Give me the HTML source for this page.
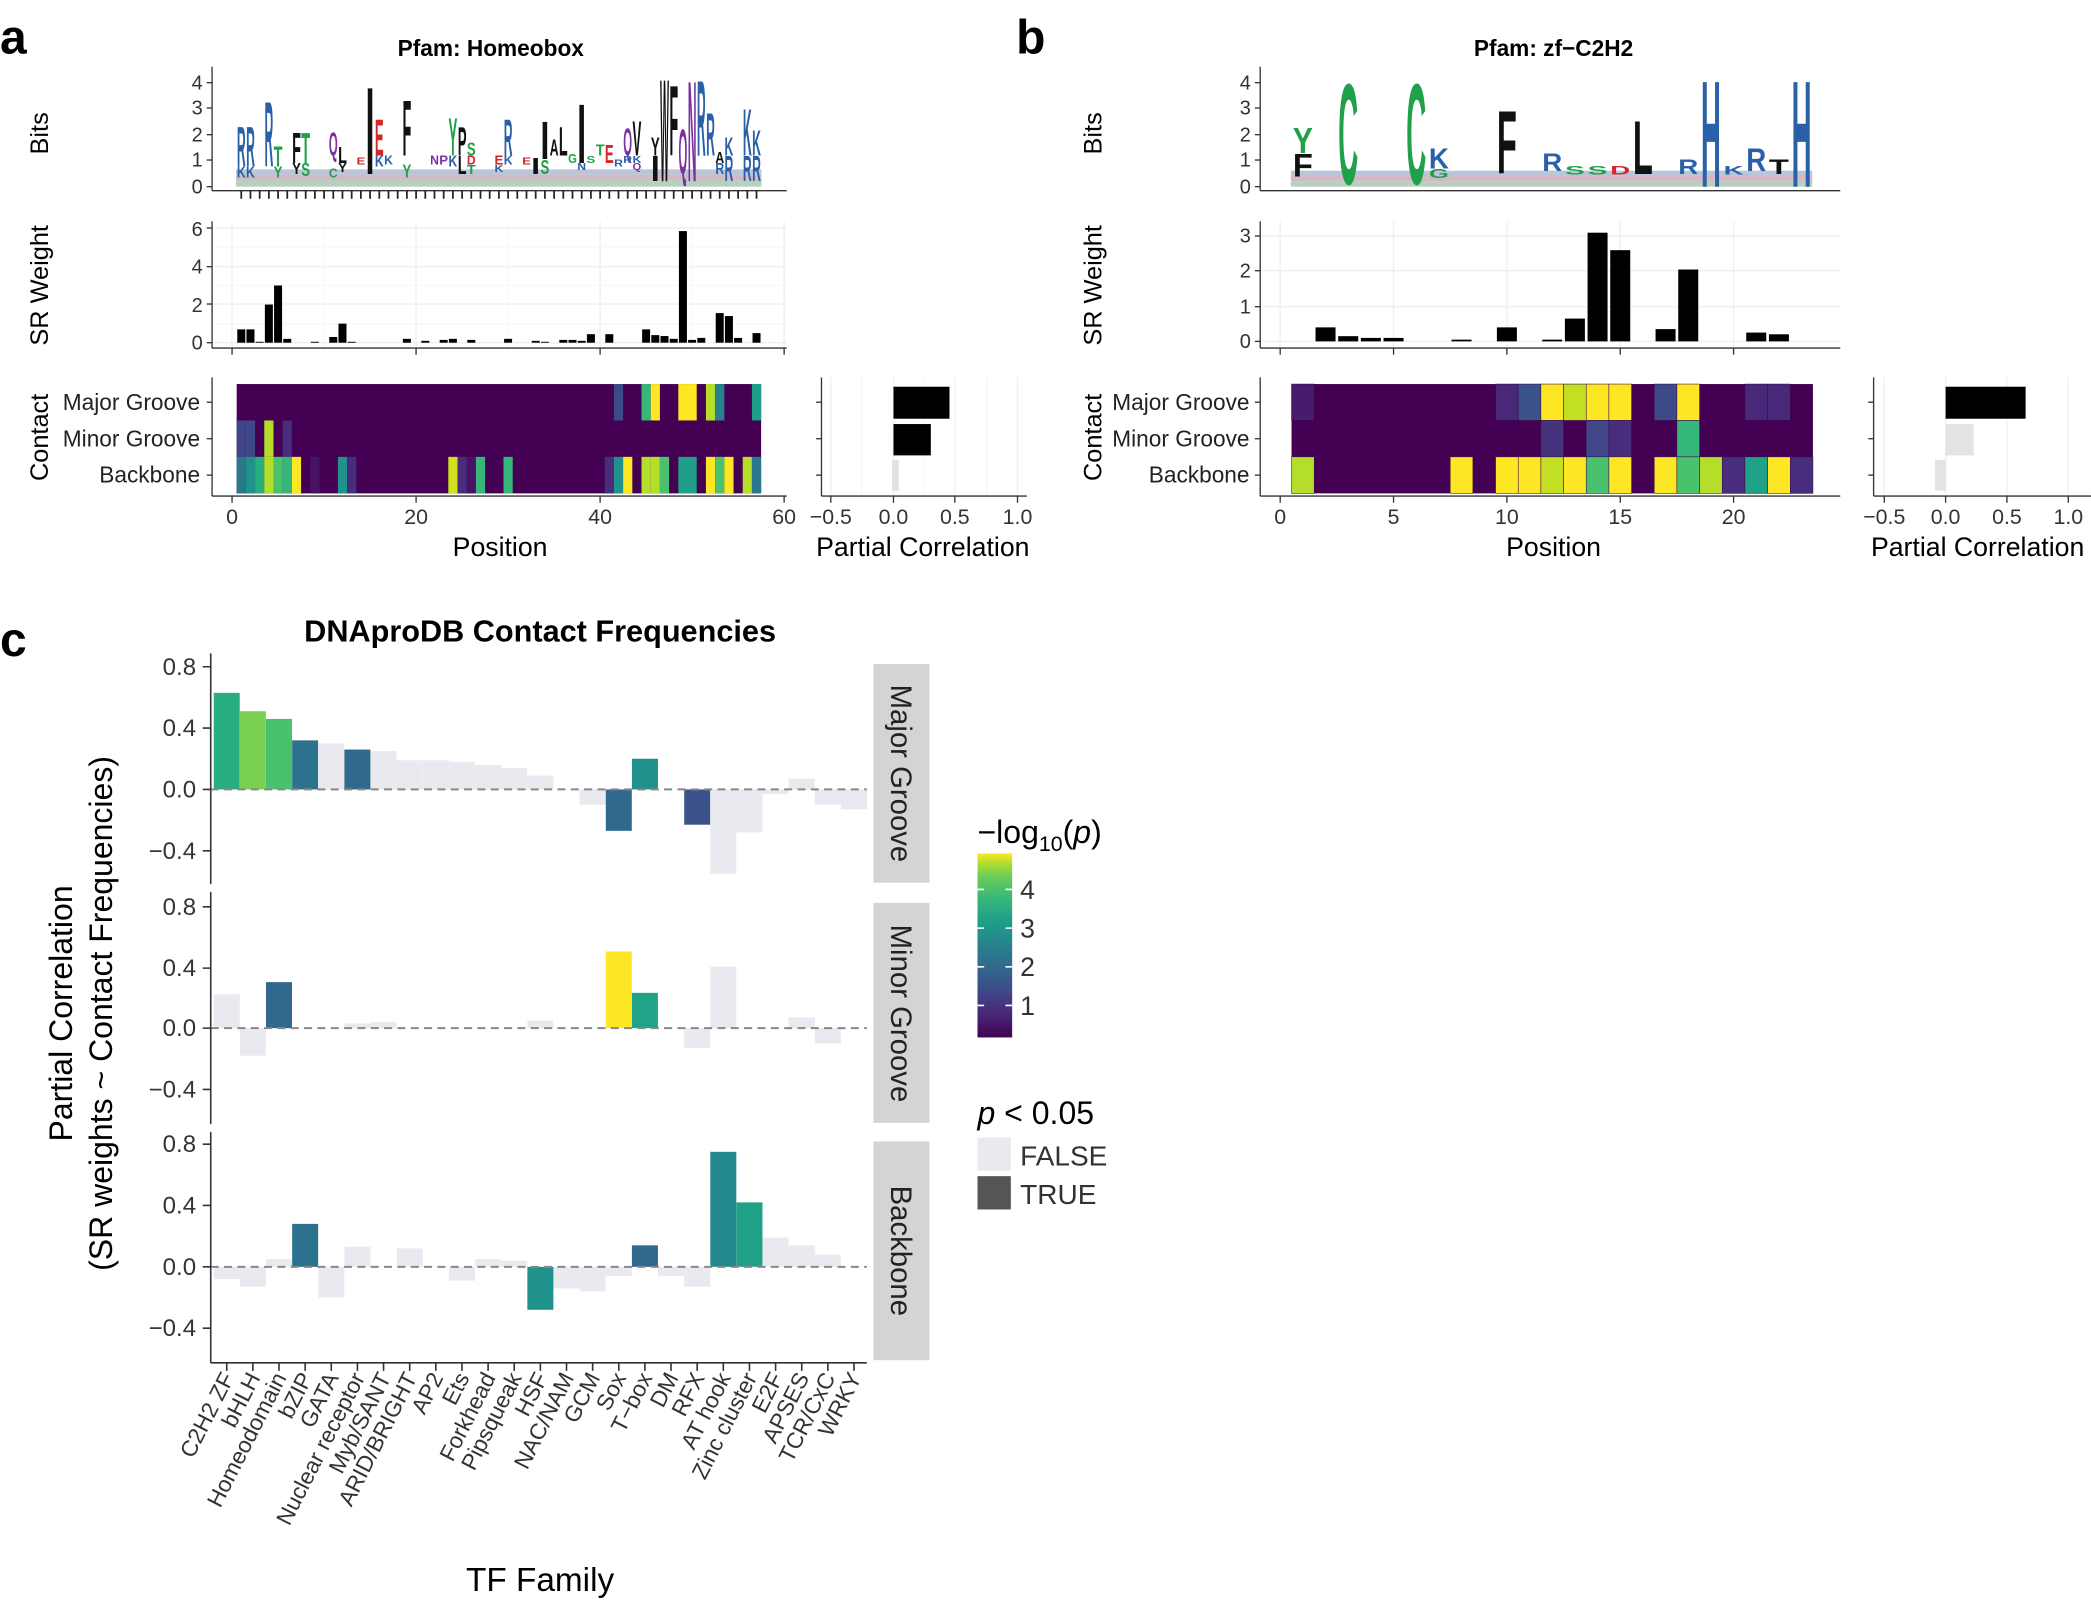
<!DOCTYPE html>
<html><head><meta charset="utf-8"><style>
html,body{margin:0;padding:0;background:#fff}
svg{display:block}
text{font-family:"Liberation Sans",sans-serif}
.l{font-weight:bold}
</style></head><body>
<svg width="2091" height="1609" viewBox="0 0 1568 1206.6" xmlns="http://www.w3.org/2000/svg">
<defs>
<linearGradient id="vir" x1="0" y1="1" x2="0" y2="0">
<stop offset="0" stop-color="#440154"/><stop offset="0.13" stop-color="#482878"/><stop offset="0.25" stop-color="#3e4989"/><stop offset="0.38" stop-color="#31688e"/><stop offset="0.5" stop-color="#26828e"/><stop offset="0.63" stop-color="#1f9e89"/><stop offset="0.75" stop-color="#35b779"/><stop offset="0.88" stop-color="#6ece58"/><stop offset="0.95" stop-color="#b5de2b"/><stop offset="1" stop-color="#fde725"/>
</linearGradient>
</defs>
<rect width="1568" height="1207" fill="#fff"/>

<!-- ===== Panel a ===== -->
<text x="0" y="40" font-size="36" class="l">a</text>
<text x="368" y="42" font-size="17" class="l" text-anchor="middle">Pfam: Homeobox</text>

<g font-size="15" text-anchor="end" fill="#333">
<text x="152" y="67">4</text><text x="152" y="86">3</text><text x="152" y="106">2</text><text x="152" y="125">1</text><text x="152" y="145">0</text>
</g>
<g stroke="#333" stroke-width="1">
<line x1="159" y1="50" x2="159" y2="143"/><line x1="159" y1="143" x2="590" y2="143"/>
<line x1="155" y1="62" x2="159" y2="62"/><line x1="155" y1="81" x2="159" y2="81"/><line x1="155" y1="101" x2="159" y2="101"/><line x1="155" y1="120" x2="159" y2="120"/><line x1="155" y1="140" x2="159" y2="140"/>
</g>
<g stroke="#222" stroke-width="1.3">
<path d="M180.9 143v6M187.8 143v6M194.7 143v6M201.6 143v6M208.5 143v6M215.4 143v6M222.3 143v6M229.2 143v6M236.1 143v6M243 143v6M249.9 143v6M256.8 143v6M263.7 143v6M270.6 143v6M277.5 143v6M284.4 143v6M291.3 143v6M298.2 143v6M305.1 143v6M312 143v6M318.9 143v6M325.8 143v6M332.7 143v6M339.6 143v6M346.5 143v6M353.4 143v6M360.3 143v6M367.2 143v6M374.1 143v6M381 143v6M387.9 143v6M394.8 143v6M401.7 143v6M408.6 143v6M415.5 143v6M422.4 143v6M429.3 143v6M436.2 143v6M443.1 143v6M450 143v6M456.9 143v6M463.8 143v6M470.7 143v6M477.6 143v6M484.5 143v6M491.4 143v6M498.3 143v6M505.2 143v6M512.1 143v6M519 143v6M525.9 143v6M532.8 143v6M539.7 143v6M546.6 143v6M553.5 143v6M560.4 143v6M567.3 143v6"/>
</g>
<text x="36" y="100" font-size="19" transform="rotate(-90 36 100)" text-anchor="middle">Bits</text>
<rect x="177" y="127" width="394" height="4" fill="#a9b7d0" opacity="0.8"/>
<rect x="177" y="131" width="394" height="4" fill="#c8a8b8" opacity="0.8"/>
<rect x="177" y="135" width="394" height="5" fill="#a8c4b0" opacity="0.8"/>
<g class="l" font-weight="bold">
<text x="177.6" y="124.8" font-size="42.4" textLength="6.6" lengthAdjust="spacingAndGlyphs" fill="#2a60a8">R</text>
<text x="177.6" y="133.1" font-size="11.5" textLength="6.6" lengthAdjust="spacingAndGlyphs" fill="#2a60a8">K</text>
<text x="184.5" y="124.8" font-size="42.4" textLength="6.6" lengthAdjust="spacingAndGlyphs" fill="#2a60a8">R</text>
<text x="184.5" y="133.1" font-size="11.5" textLength="6.6" lengthAdjust="spacingAndGlyphs" fill="#2a60a8">K</text>
<text x="198.3" y="124.8" font-size="69.9" textLength="6.6" lengthAdjust="spacingAndGlyphs" fill="#2a60a8">R</text>
<text x="205.2" y="124.8" font-size="21.2" textLength="6.6" lengthAdjust="spacingAndGlyphs" fill="#21a04a">T</text>
<text x="205.2" y="133.1" font-size="11.5" textLength="6.6" lengthAdjust="spacingAndGlyphs" fill="#21a04a">Y</text>
<text x="219" y="122.1" font-size="32.8" textLength="6.6" lengthAdjust="spacingAndGlyphs" fill="#111">F</text>
<text x="219" y="130.4" font-size="11.5" textLength="6.6" lengthAdjust="spacingAndGlyphs" fill="#111">Y</text>
<text x="225.9" y="122.1" font-size="32.8" textLength="6.6" lengthAdjust="spacingAndGlyphs" fill="#21a04a">T</text>
<text x="225.9" y="131.8" font-size="13.5" textLength="6.6" lengthAdjust="spacingAndGlyphs" fill="#21a04a">S</text>
<text x="246.6" y="116.5" font-size="25" textLength="6.6" lengthAdjust="spacingAndGlyphs" fill="#7b2fa0">Q</text>
<text x="246.6" y="133.1" font-size="9.6" textLength="6.6" lengthAdjust="spacingAndGlyphs" fill="#21a04a">C</text>
<text x="253.5" y="122.1" font-size="17.3" textLength="6.6" lengthAdjust="spacingAndGlyphs" fill="#111">L</text>
<text x="253.5" y="129" font-size="9.6" textLength="6.6" lengthAdjust="spacingAndGlyphs" fill="#111">Y</text>
<text x="267.3" y="123.4" font-size="7.5" textLength="6.6" lengthAdjust="spacingAndGlyphs" fill="#d62728">E</text>
<text x="274.2" y="130.4" font-size="93.3" textLength="6.6" lengthAdjust="spacingAndGlyphs" fill="#111">I</text>
<text x="281.1" y="116.5" font-size="38.6" textLength="6.6" lengthAdjust="spacingAndGlyphs" fill="#d62728">E</text>
<text x="281.1" y="124.8" font-size="11.5" textLength="6.6" lengthAdjust="spacingAndGlyphs" fill="#2a60a8">K</text>
<text x="288" y="123.4" font-size="9.6" textLength="6.6" lengthAdjust="spacingAndGlyphs" fill="#2a60a8">K</text>
<text x="301.8" y="116.5" font-size="58.8" textLength="6.6" lengthAdjust="spacingAndGlyphs" fill="#111">F</text>
<text x="301.8" y="133.1" font-size="13.5" textLength="6.6" lengthAdjust="spacingAndGlyphs" fill="#21a04a">Y</text>
<text x="322.5" y="123.4" font-size="9.6" textLength="6.6" lengthAdjust="spacingAndGlyphs" fill="#7b2fa0">N</text>
<text x="329.4" y="123.4" font-size="9.6" textLength="6.6" lengthAdjust="spacingAndGlyphs" fill="#7b2fa0">P</text>
<text x="336.3" y="116.5" font-size="40.4" textLength="6.6" lengthAdjust="spacingAndGlyphs" fill="#21a04a">Y</text>
<text x="336.3" y="124.8" font-size="11.5" textLength="6.6" lengthAdjust="spacingAndGlyphs" fill="#2a60a8">K</text>
<text x="343.2" y="116.5" font-size="30.8" textLength="6.6" lengthAdjust="spacingAndGlyphs" fill="#111">P</text>
<text x="343.2" y="130.4" font-size="19.2" textLength="6.6" lengthAdjust="spacingAndGlyphs" fill="#111">L</text>
<text x="350.1" y="116.5" font-size="13.5" textLength="6.6" lengthAdjust="spacingAndGlyphs" fill="#21a04a">S</text>
<text x="350.1" y="123.4" font-size="9.6" textLength="6.6" lengthAdjust="spacingAndGlyphs" fill="#d62728">D</text>
<text x="350.1" y="130.4" font-size="9.6" textLength="6.6" lengthAdjust="spacingAndGlyphs" fill="#21a04a">T</text>
<text x="370.8" y="123.4" font-size="9.6" textLength="6.6" lengthAdjust="spacingAndGlyphs" fill="#d62728">E</text>
<text x="370.8" y="129" font-size="7.7" textLength="6.6" lengthAdjust="spacingAndGlyphs" fill="#2a60a8">K</text>
<text x="377.7" y="116.5" font-size="38.6" textLength="6.6" lengthAdjust="spacingAndGlyphs" fill="#2a60a8">R</text>
<text x="377.7" y="123.4" font-size="9.6" textLength="6.6" lengthAdjust="spacingAndGlyphs" fill="#2a60a8">K</text>
<text x="391.5" y="123.4" font-size="7.6" textLength="6.6" lengthAdjust="spacingAndGlyphs" fill="#d62728">E</text>
<text x="398.4" y="130.4" font-size="17.3" textLength="6.6" lengthAdjust="spacingAndGlyphs" fill="#111">I</text>
<text x="405.3" y="119.3" font-size="40.4" textLength="6.6" lengthAdjust="spacingAndGlyphs" fill="#111">I</text>
<text x="405.3" y="130.4" font-size="15.4" textLength="6.6" lengthAdjust="spacingAndGlyphs" fill="#21a04a">S</text>
<text x="412.2" y="116.5" font-size="17.3" textLength="6.6" lengthAdjust="spacingAndGlyphs" fill="#111">A</text>
<text x="419.1" y="116.5" font-size="30.8" textLength="6.6" lengthAdjust="spacingAndGlyphs" fill="#111">L</text>
<text x="426" y="122.1" font-size="9.6" textLength="6.6" lengthAdjust="spacingAndGlyphs" fill="#21a04a">G</text>
<text x="432.9" y="122.1" font-size="63.6" textLength="6.6" lengthAdjust="spacingAndGlyphs" fill="#111">I</text>
<text x="432.9" y="127.6" font-size="7.7" textLength="6.6" lengthAdjust="spacingAndGlyphs" fill="#2a60a8">N</text>
<text x="439.8" y="122.1" font-size="7.7" textLength="6.6" lengthAdjust="spacingAndGlyphs" fill="#21a04a">S</text>
<text x="446.7" y="116.5" font-size="11.5" textLength="6.6" lengthAdjust="spacingAndGlyphs" fill="#21a04a">T</text>
<text x="453.6" y="122.1" font-size="19.2" textLength="6.6" lengthAdjust="spacingAndGlyphs" fill="#d62728">E</text>
<text x="460.5" y="124.8" font-size="7.7" textLength="6.6" lengthAdjust="spacingAndGlyphs" fill="#2a60a8">R</text>
<text x="467.4" y="116.5" font-size="28.9" textLength="6.6" lengthAdjust="spacingAndGlyphs" fill="#7b2fa0">Q</text>
<text x="467.4" y="122.1" font-size="7.7" textLength="6.6" lengthAdjust="spacingAndGlyphs" fill="#2a60a8">R</text>
<text x="474.3" y="116.5" font-size="36.5" textLength="6.6" lengthAdjust="spacingAndGlyphs" fill="#111">V</text>
<text x="474.3" y="122.1" font-size="7.7" textLength="6.6" lengthAdjust="spacingAndGlyphs" fill="#2a60a8">K</text>
<text x="474.3" y="127.6" font-size="7.7" textLength="6.6" lengthAdjust="spacingAndGlyphs" fill="#7b2fa0">Q</text>
<text x="488.1" y="116.5" font-size="19.2" textLength="6.6" lengthAdjust="spacingAndGlyphs" fill="#111">Y</text>
<text x="488.1" y="135.9" font-size="26.9" textLength="6.6" lengthAdjust="spacingAndGlyphs" fill="#111">I</text>
<text x="495" y="135.9" font-size="109.7" textLength="6.6" lengthAdjust="spacingAndGlyphs" fill="#111">W</text>
<text x="501.9" y="116.5" font-size="75.1" textLength="6.6" lengthAdjust="spacingAndGlyphs" fill="#111">F</text>
<text x="508.8" y="130.4" font-size="48.1" textLength="6.6" lengthAdjust="spacingAndGlyphs" fill="#7b2fa0">Q</text>
<text x="515.7" y="135.9" font-size="107.8" textLength="6.6" lengthAdjust="spacingAndGlyphs" fill="#7b2fa0">N</text>
<text x="522.6" y="116.5" font-size="80.8" textLength="6.6" lengthAdjust="spacingAndGlyphs" fill="#2a60a8">R</text>
<text x="529.5" y="116.5" font-size="46.2" textLength="6.6" lengthAdjust="spacingAndGlyphs" fill="#2a60a8">R</text>
<text x="536.4" y="122.1" font-size="11.5" textLength="6.6" lengthAdjust="spacingAndGlyphs" fill="#111">A</text>
<text x="536.4" y="130.4" font-size="11.5" textLength="6.6" lengthAdjust="spacingAndGlyphs" fill="#2a60a8">R</text>
<text x="543.3" y="116.5" font-size="19.2" textLength="6.6" lengthAdjust="spacingAndGlyphs" fill="#2a60a8">K</text>
<text x="543.3" y="135.9" font-size="26.9" textLength="6.6" lengthAdjust="spacingAndGlyphs" fill="#2a60a8">R</text>
<text x="557.1" y="116.5" font-size="50" textLength="6.6" lengthAdjust="spacingAndGlyphs" fill="#2a60a8">K</text>
<text x="557.1" y="135.9" font-size="26.9" textLength="6.6" lengthAdjust="spacingAndGlyphs" fill="#2a60a8">R</text>
<text x="564" y="116.5" font-size="26.9" textLength="6.6" lengthAdjust="spacingAndGlyphs" fill="#2a60a8">K</text>
<text x="564" y="135.9" font-size="26.9" textLength="6.6" lengthAdjust="spacingAndGlyphs" fill="#2a60a8">R</text>
</g>

<g stroke="#efefef" stroke-width="1">
<line x1="160" y1="171" x2="590" y2="171"/><line x1="160" y1="200" x2="590" y2="200"/><line x1="160" y1="228" x2="590" y2="228"/><line x1="160" y1="257" x2="590" y2="257"/>
<line x1="160" y1="185" x2="590" y2="185" stroke="#f7f7f7"/><line x1="160" y1="214" x2="590" y2="214" stroke="#f7f7f7"/><line x1="160" y1="243" x2="590" y2="243" stroke="#f7f7f7"/>
<line x1="174" y1="166" x2="174" y2="261"/><line x1="312" y1="166" x2="312" y2="261"/><line x1="450" y1="166" x2="450" y2="261"/><line x1="588" y1="166" x2="588" y2="261"/>
<line x1="243" y1="166" x2="243" y2="261" stroke="#f7f7f7"/><line x1="381" y1="166" x2="381" y2="261" stroke="#f7f7f7"/><line x1="519" y1="166" x2="519" y2="261" stroke="#f7f7f7"/>
</g>
<g stroke="#333" stroke-width="1">
<line x1="159" y1="166" x2="159" y2="261"/><line x1="159" y1="261" x2="590" y2="261"/>
<line x1="155" y1="171" x2="159" y2="171"/><line x1="155" y1="200" x2="159" y2="200"/><line x1="155" y1="228" x2="159" y2="228"/><line x1="155" y1="257" x2="159" y2="257"/>
<line x1="174" y1="261" x2="174" y2="266"/><line x1="312" y1="261" x2="312" y2="266"/><line x1="450" y1="261" x2="450" y2="266"/><line x1="588" y1="261" x2="588" y2="266"/>
</g>
<g font-size="15" text-anchor="end" fill="#333">
<text x="152" y="177">6</text><text x="152" y="205">4</text><text x="152" y="234">2</text><text x="152" y="262">0</text>
</g>
<text x="36" y="214" font-size="19" transform="rotate(-90 36 214)" text-anchor="middle">SR Weight</text>
<g fill="#000">
<rect x="177.9" y="247" width="6" height="10"/><rect x="184.8" y="247" width="6" height="10"/><rect x="191.7" y="256.3" width="6" height="0.7"/>
<rect x="198.6" y="228.4" width="6" height="28.6"/><rect x="205.5" y="214.1" width="6" height="42.9"/><rect x="212.4" y="254.1" width="6" height="2.9"/>
<rect x="233.1" y="256.3" width="6" height="0.7"/><rect x="246.9" y="252.7" width="6" height="4.3"/><rect x="253.8" y="242.7" width="6" height="14.3"/><rect x="260.7" y="256.3" width="6" height="0.7"/>
<rect x="302.1" y="254.1" width="6" height="2.9"/><rect x="315.9" y="255.6" width="6" height="1.4"/><rect x="329.7" y="254.9" width="6" height="2.1"/><rect x="336.6" y="254.1" width="6" height="2.9"/>
<rect x="350.4" y="254.9" width="6" height="2.1"/><rect x="378" y="254.1" width="6" height="2.9"/><rect x="398.7" y="255.6" width="6" height="1.4"/><rect x="405.6" y="256.3" width="6" height="0.7"/>
<rect x="419.4" y="254.9" width="6" height="2.1"/><rect x="426.3" y="254.9" width="6" height="2.1"/><rect x="433.2" y="255.6" width="6" height="1.4"/><rect x="440.1" y="250.6" width="6" height="6.4"/>
<rect x="453.9" y="250.6" width="6" height="6.4"/><rect x="481.5" y="247" width="6" height="10"/><rect x="488.4" y="251.3" width="6" height="5.7"/><rect x="495.3" y="252" width="6" height="5"/>
<rect x="502.2" y="254.1" width="6" height="2.9"/><rect x="509.1" y="173.3" width="6" height="83.7"/><rect x="516" y="254.9" width="6" height="2.1"/><rect x="522.9" y="253.4" width="6" height="3.6"/>
<rect x="536.7" y="234.8" width="6" height="22.2"/><rect x="543.6" y="237" width="6" height="20"/><rect x="550.5" y="253.4" width="6" height="3.6"/><rect x="564.3" y="249.8" width="6" height="7.2"/>
</g>

<rect x="177.45" y="288" width="393.3" height="82" fill="#440154"/>
<g>
<rect x="460.35" y="288" width="6.9" height="27.3" fill="#3e4989"/><rect x="481.05" y="288" width="6.9" height="27.3" fill="#35b779"/><rect x="487.95" y="288" width="6.9" height="27.3" fill="#fde725"/><rect x="508.65" y="288" width="6.9" height="27.3" fill="#fde725"/><rect x="515.55" y="288" width="6.9" height="27.3" fill="#fde725"/><rect x="529.35" y="288" width="6.9" height="27.3" fill="#b5de2b"/><rect x="536.25" y="288" width="6.9" height="27.3" fill="#26828e"/><rect x="563.85" y="288" width="6.9" height="27.3" fill="#1f9e89"/>
<rect x="177.45" y="315.3" width="6.9" height="27.3" fill="#414487"/><rect x="184.35" y="315.3" width="6.9" height="27.3" fill="#3e4989"/><rect x="198.15" y="315.3" width="6.9" height="27.3" fill="#b5de2b"/><rect x="211.95" y="315.3" width="6.9" height="27.3" fill="#472d7b"/>
<rect x="177.45" y="342.6" width="6.9" height="27.4" fill="#2a788e"/><rect x="184.35" y="342.6" width="6.9" height="27.4" fill="#21918c"/><rect x="191.25" y="342.6" width="6.9" height="27.4" fill="#29af7f"/><rect x="198.15" y="342.6" width="6.9" height="27.4" fill="#b5de2b"/><rect x="205.05" y="342.6" width="6.9" height="27.4" fill="#4ac16d"/><rect x="211.95" y="342.6" width="6.9" height="27.4" fill="#35b779"/><rect x="218.85" y="342.6" width="6.9" height="27.4" fill="#fde725"/><rect x="232.65" y="342.6" width="6.9" height="27.4" fill="#471365"/><rect x="253.35" y="342.6" width="6.9" height="27.4" fill="#21918c"/><rect x="260.25" y="342.6" width="6.9" height="27.4" fill="#472d7b"/>
<rect x="336.15" y="342.6" width="6.9" height="27.4" fill="#d0e11c"/><rect x="343.05" y="342.6" width="6.9" height="27.4" fill="#472d7b"/><rect x="349.95" y="342.6" width="6.9" height="27.4" fill="#471365"/><rect x="356.85" y="342.6" width="6.9" height="27.4" fill="#35b779"/><rect x="377.55" y="342.6" width="6.9" height="27.4" fill="#35b779"/>
<rect x="453.45" y="342.6" width="6.9" height="27.4" fill="#472d7b"/><rect x="460.35" y="342.6" width="6.9" height="27.4" fill="#21918c"/><rect x="467.25" y="342.6" width="6.9" height="27.4" fill="#fde725"/><rect x="481.05" y="342.6" width="6.9" height="27.4" fill="#b5de2b"/><rect x="487.95" y="342.6" width="6.9" height="27.4" fill="#b5de2b"/><rect x="494.85" y="342.6" width="6.9" height="27.4" fill="#4ac16d"/><rect x="508.65" y="342.6" width="6.9" height="27.4" fill="#1f9e89"/><rect x="515.55" y="342.6" width="6.9" height="27.4" fill="#1f9e89"/><rect x="529.35" y="342.6" width="6.9" height="27.4" fill="#fde725"/><rect x="536.25" y="342.6" width="6.9" height="27.4" fill="#4ac16d"/><rect x="543.15" y="342.6" width="6.9" height="27.4" fill="#fde725"/><rect x="556.95" y="342.6" width="6.9" height="27.4" fill="#b5de2b"/><rect x="563.85" y="342.6" width="6.9" height="27.4" fill="#2a788e"/>
</g>
<g stroke="#333" stroke-width="1">
<line x1="159" y1="283" x2="159" y2="372"/><line x1="159" y1="372" x2="590" y2="372"/>
<line x1="155" y1="301.6" x2="159" y2="301.6"/><line x1="155" y1="329" x2="159" y2="329"/><line x1="155" y1="356.3" x2="159" y2="356.3"/>
<line x1="174" y1="372" x2="174" y2="377"/><line x1="312" y1="372" x2="312" y2="377"/><line x1="450" y1="372" x2="450" y2="377"/><line x1="588" y1="372" x2="588" y2="377"/>
</g>
<g font-size="17" text-anchor="end" fill="#222">
<text x="150" y="307.5">Major Groove</text><text x="150" y="335">Minor Groove</text><text x="150" y="362">Backbone</text>
</g>
<text x="36" y="328" font-size="19" transform="rotate(-90 36 328)" text-anchor="middle">Contact</text>
<g font-size="16" text-anchor="middle" fill="#333">
<text x="174" y="393">0</text><text x="312" y="393">20</text><text x="450" y="393">40</text><text x="588" y="393">60</text>
</g>
<text x="375" y="417" font-size="20" text-anchor="middle">Position</text>

<g stroke="#efefef"><line x1="623" y1="283" x2="623" y2="372"/><line x1="670" y1="283" x2="670" y2="372"/><line x1="716" y1="283" x2="716" y2="372"/><line x1="763" y1="283" x2="763" y2="372"/>
<line x1="646" y1="283" x2="646" y2="372" stroke="#f7f7f7"/><line x1="693" y1="283" x2="693" y2="372" stroke="#f7f7f7"/><line x1="740" y1="283" x2="740" y2="372" stroke="#f7f7f7"/></g>
<rect x="670" y="290" width="42" height="24" fill="#000"/>
<rect x="670" y="318" width="28" height="23.5" fill="#000"/>
<rect x="669" y="345" width="5" height="23" fill="#e0e0e0"/>
<g stroke="#333" stroke-width="1">
<line x1="616" y1="283" x2="616" y2="372"/><line x1="616" y1="372" x2="770" y2="372"/>
<line x1="612" y1="301.6" x2="616" y2="301.6"/><line x1="612" y1="329" x2="616" y2="329"/><line x1="612" y1="356.3" x2="616" y2="356.3"/>
<line x1="623" y1="372" x2="623" y2="377"/><line x1="670" y1="372" x2="670" y2="377"/><line x1="716" y1="372" x2="716" y2="377"/><line x1="763" y1="372" x2="763" y2="377"/>
</g>
<g font-size="16" text-anchor="middle" fill="#333">
<text x="623" y="393">−0.5</text><text x="670" y="393">0.0</text><text x="716" y="393">0.5</text><text x="763" y="393">1.0</text>
</g>
<text x="692" y="417" font-size="20" text-anchor="middle">Partial Correlation</text>

<!-- ===== Panel b ===== -->
<text x="762" y="40" font-size="36" class="l">b</text>
<text x="1165" y="42" font-size="17" class="l" text-anchor="middle">Pfam: zf−C2H2</text>
<g font-size="15" text-anchor="end" fill="#333">
<text x="938" y="67">4</text><text x="938" y="86">3</text><text x="938" y="106">2</text><text x="938" y="125">1</text><text x="938" y="145">0</text>
</g>
<g stroke="#333" stroke-width="1">
<line x1="945" y1="50" x2="945" y2="143"/><line x1="945" y1="143" x2="1380" y2="143"/>
<line x1="941" y1="62" x2="945" y2="62"/><line x1="941" y1="81" x2="945" y2="81"/><line x1="941" y1="101" x2="945" y2="101"/><line x1="941" y1="120" x2="945" y2="120"/><line x1="941" y1="140" x2="945" y2="140"/>
</g>
<text x="826" y="100" font-size="19" transform="rotate(-90 826 100)" text-anchor="middle">Bits</text>
<rect x="968" y="128" width="391" height="4" fill="#a9b7d0" opacity="0.8"/>
<rect x="968" y="132" width="391" height="4" fill="#c8a8b8" opacity="0.8"/>
<rect x="968" y="136" width="391" height="4" fill="#a8c4b0" opacity="0.8"/>
<g class="l">
<text x="969.5" y="114.6" font-size="27" textLength="15" lengthAdjust="spacingAndGlyphs" fill="#21a04a">Y</text>
<text x="969.5" y="132.2" font-size="24.4" textLength="15" lengthAdjust="spacingAndGlyphs" fill="#111">F</text>
<text x="1003.5" y="138" font-size="108" textLength="15" lengthAdjust="spacingAndGlyphs" fill="#21a04a">C</text>
<text x="1054.5" y="138" font-size="108" textLength="15" lengthAdjust="spacingAndGlyphs" fill="#21a04a">C</text>
<text x="1071.5" y="126.3" font-size="21.7" textLength="15" lengthAdjust="spacingAndGlyphs" fill="#2a60a8">K</text>
<text x="1071.5" y="133.5" font-size="10" textLength="15" lengthAdjust="spacingAndGlyphs" fill="#21a04a">G</text>
<text x="1122.5" y="130" font-size="67.4" textLength="15" lengthAdjust="spacingAndGlyphs" fill="#111">F</text>
<text x="1156.5" y="128.3" font-size="19" textLength="15" lengthAdjust="spacingAndGlyphs" fill="#2a60a8">R</text>
<text x="1173.5" y="131" font-size="9" textLength="15" lengthAdjust="spacingAndGlyphs" fill="#21a04a">S</text>
<text x="1190.5" y="131" font-size="9" textLength="15" lengthAdjust="spacingAndGlyphs" fill="#21a04a">S</text>
<text x="1207.5" y="131" font-size="9" textLength="15" lengthAdjust="spacingAndGlyphs" fill="#d62728">D</text>
<text x="1224.5" y="130.3" font-size="57" textLength="15" lengthAdjust="spacingAndGlyphs" fill="#111">L</text>
<text x="1258.5" y="130.3" font-size="16" textLength="15" lengthAdjust="spacingAndGlyphs" fill="#2a60a8">R</text>
<text x="1275.5" y="140" font-size="114" textLength="15" lengthAdjust="spacingAndGlyphs" fill="#2a60a8">H</text>
<text x="1292.5" y="131" font-size="9" textLength="15" lengthAdjust="spacingAndGlyphs" fill="#2a60a8">K</text>
<text x="1309.5" y="128.3" font-size="24" textLength="15" lengthAdjust="spacingAndGlyphs" fill="#2a60a8">R</text>
<text x="1326.5" y="130.3" font-size="16" textLength="15" lengthAdjust="spacingAndGlyphs" fill="#111">T</text>
<text x="1343.5" y="140" font-size="114" textLength="15" lengthAdjust="spacingAndGlyphs" fill="#2a60a8">H</text>
</g>

<g stroke="#efefef" stroke-width="1">
<line x1="946" y1="177" x2="1380" y2="177"/><line x1="946" y1="203" x2="1380" y2="203"/><line x1="946" y1="230" x2="1380" y2="230"/><line x1="946" y1="256" x2="1380" y2="256"/>
<line x1="960" y1="166" x2="960" y2="261"/><line x1="1045" y1="166" x2="1045" y2="261"/><line x1="1130" y1="166" x2="1130" y2="261"/><line x1="1215" y1="166" x2="1215" y2="261"/><line x1="1300" y1="166" x2="1300" y2="261"/>
</g>
<g stroke="#333" stroke-width="1">
<line x1="945" y1="166" x2="945" y2="261"/><line x1="945" y1="261" x2="1380" y2="261"/>
<line x1="941" y1="177" x2="945" y2="177"/><line x1="941" y1="203" x2="945" y2="203"/><line x1="941" y1="230" x2="945" y2="230"/><line x1="941" y1="256" x2="945" y2="256"/>
<line x1="960" y1="261" x2="960" y2="266"/><line x1="1045" y1="261" x2="1045" y2="266"/><line x1="1130" y1="261" x2="1130" y2="266"/><line x1="1215" y1="261" x2="1215" y2="266"/><line x1="1300" y1="261" x2="1300" y2="266"/>
</g>
<g font-size="15" text-anchor="end" fill="#333">
<text x="938" y="182">3</text><text x="938" y="208">2</text><text x="938" y="235">1</text><text x="938" y="261">0</text>
</g>
<text x="826" y="214" font-size="19" transform="rotate(-90 826 214)" text-anchor="middle">SR Weight</text>
<g fill="#000">
<rect x="986.5" y="245.5" width="15" height="10.5"/><rect x="1003.5" y="252.1" width="15" height="3.9"/><rect x="1020.5" y="253.4" width="15" height="2.6"/><rect x="1037.5" y="253.4" width="15" height="2.6"/>
<rect x="1088.5" y="254.7" width="15" height="1.3"/><rect x="1122.5" y="245.5" width="15" height="10.5"/><rect x="1156.5" y="254.7" width="15" height="1.3"/><rect x="1173.5" y="238.9" width="15" height="17.1"/>
<rect x="1190.5" y="174.5" width="15" height="81.5"/><rect x="1207.5" y="187.6" width="15" height="68.4"/><rect x="1241.5" y="246.8" width="15" height="9.2"/><rect x="1258.5" y="202.1" width="15" height="53.9"/>
<rect x="1309.5" y="249.4" width="15" height="6.6"/><rect x="1326.5" y="250.7" width="15" height="5.3"/>
</g>

<rect x="968.5" y="288" width="391" height="82" fill="#440154"/>
<g stroke="#3a0a4a" stroke-width="0.4">
<rect x="968.5" y="288" width="17" height="27.3" fill="#481b6d"/><rect x="1121.5" y="288" width="17" height="27.3" fill="#482878"/><rect x="1138.5" y="288" width="17" height="27.3" fill="#3b528b"/><rect x="1155.5" y="288" width="17" height="27.3" fill="#fde725"/><rect x="1172.5" y="288" width="17" height="27.3" fill="#c2df23"/><rect x="1189.5" y="288" width="17" height="27.3" fill="#fde725"/><rect x="1206.5" y="288" width="17" height="27.3" fill="#fde725"/><rect x="1240.5" y="288" width="17" height="27.3" fill="#3e4989"/><rect x="1257.5" y="288" width="17" height="27.3" fill="#fde725"/><rect x="1308.5" y="288" width="17" height="27.3" fill="#482878"/><rect x="1325.5" y="288" width="17" height="27.3" fill="#482878"/>
<rect x="1155.5" y="315.3" width="17" height="27.3" fill="#46337e"/><rect x="1189.5" y="315.3" width="17" height="27.3" fill="#404688"/><rect x="1206.5" y="315.3" width="17" height="27.3" fill="#472d7b"/><rect x="1257.5" y="315.3" width="17" height="27.3" fill="#35b779"/>
<rect x="968.5" y="342.6" width="17" height="27.4" fill="#b5de2b"/><rect x="1087.5" y="342.6" width="17" height="27.4" fill="#fde725"/><rect x="1121.5" y="342.6" width="17" height="27.4" fill="#fde725"/><rect x="1138.5" y="342.6" width="17" height="27.4" fill="#fde725"/><rect x="1155.5" y="342.6" width="17" height="27.4" fill="#c2df23"/><rect x="1172.5" y="342.6" width="17" height="27.4" fill="#fde725"/><rect x="1189.5" y="342.6" width="17" height="27.4" fill="#4ac16d"/><rect x="1206.5" y="342.6" width="17" height="27.4" fill="#fde725"/><rect x="1240.5" y="342.6" width="17" height="27.4" fill="#fde725"/><rect x="1257.5" y="342.6" width="17" height="27.4" fill="#4ac16d"/><rect x="1274.5" y="342.6" width="17" height="27.4" fill="#b5de2b"/><rect x="1291.5" y="342.6" width="17" height="27.4" fill="#472d7b"/><rect x="1308.5" y="342.6" width="17" height="27.4" fill="#1fa187"/><rect x="1325.5" y="342.6" width="17" height="27.4" fill="#fde725"/><rect x="1342.5" y="342.6" width="17" height="27.4" fill="#472d7b"/>
</g>
<g stroke="#333" stroke-width="1">
<line x1="945" y1="283" x2="945" y2="372"/><line x1="945" y1="372" x2="1380" y2="372"/>
<line x1="941" y1="301.6" x2="945" y2="301.6"/><line x1="941" y1="329" x2="945" y2="329"/><line x1="941" y1="356.3" x2="945" y2="356.3"/>
<line x1="960" y1="372" x2="960" y2="377"/><line x1="1045" y1="372" x2="1045" y2="377"/><line x1="1130" y1="372" x2="1130" y2="377"/><line x1="1215" y1="372" x2="1215" y2="377"/><line x1="1300" y1="372" x2="1300" y2="377"/>
</g>
<g font-size="17" text-anchor="end" fill="#222">
<text x="937" y="307.5">Major Groove</text><text x="937" y="335">Minor Groove</text><text x="937" y="362">Backbone</text>
</g>
<text x="826" y="328" font-size="19" transform="rotate(-90 826 328)" text-anchor="middle">Contact</text>
<g font-size="16" text-anchor="middle" fill="#333">
<text x="960" y="393">0</text><text x="1045" y="393">5</text><text x="1130" y="393">10</text><text x="1215" y="393">15</text><text x="1300" y="393">20</text>
</g>
<text x="1165" y="417" font-size="20" text-anchor="middle">Position</text>

<g stroke="#efefef"><line x1="1413" y1="283" x2="1413" y2="372"/><line x1="1459" y1="283" x2="1459" y2="372"/><line x1="1505" y1="283" x2="1505" y2="372"/><line x1="1551" y1="283" x2="1551" y2="372"/></g>
<rect x="1459" y="290" width="60" height="24" fill="#000"/>
<rect x="1459" y="318" width="21" height="23.5" fill="#e3e3e3"/>
<rect x="1451" y="345" width="8" height="23" fill="#e3e3e3"/>
<g stroke="#333" stroke-width="1">
<line x1="1405" y1="283" x2="1405" y2="372"/><line x1="1405" y1="372" x2="1568" y2="372"/>
<line x1="1401" y1="301.6" x2="1405" y2="301.6"/><line x1="1401" y1="329" x2="1405" y2="329"/><line x1="1401" y1="356.3" x2="1405" y2="356.3"/>
<line x1="1413" y1="372" x2="1413" y2="377"/><line x1="1459" y1="372" x2="1459" y2="377"/><line x1="1505" y1="372" x2="1505" y2="377"/><line x1="1551" y1="372" x2="1551" y2="377"/>
</g>
<g font-size="16" text-anchor="middle" fill="#333">
<text x="1413" y="393">−0.5</text><text x="1459" y="393">0.0</text><text x="1505" y="393">0.5</text><text x="1551" y="393">1.0</text>
</g>
<text x="1483" y="417" font-size="20" text-anchor="middle">Partial Correlation</text>

<!-- ===== Panel c ===== -->
<text x="0" y="492" font-size="36" class="l">c</text>
<text x="405" y="481" font-size="23" class="l" text-anchor="middle">DNAproDB Contact Frequencies</text>

<rect x="655" y="498" width="42" height="164" fill="#d4d4d4"/>
<rect x="655" y="677" width="42" height="165" fill="#d4d4d4"/>
<rect x="655" y="856" width="42" height="164" fill="#d4d4d4"/>
<g font-size="22" fill="#222" text-anchor="middle">
<text x="668" y="580" transform="rotate(90 668 580)">Major Groove</text>
<text x="668" y="760" transform="rotate(90 668 760)">Minor Groove</text>
<text x="668" y="938" transform="rotate(90 668 938)">Backbone</text>
</g>

<g>
<rect x="160.25" y="519.55" width="19.5" height="72.45" fill="#29af7f"/>
<rect x="179.85" y="533.35" width="19.5" height="58.65" fill="#7ad151"/>
<rect x="199.45" y="539.1" width="19.5" height="52.9" fill="#4ac16d"/>
<rect x="219.05" y="555.2" width="19.5" height="36.8" fill="#2c728e"/>
<rect x="238.65" y="557.5" width="19.5" height="34.5" fill="#e9e9f0"/>
<rect x="258.25" y="562.1" width="19.5" height="29.9" fill="#31688e"/>
<rect x="277.85" y="563.25" width="19.5" height="28.75" fill="#e9e9f0"/>
<rect x="297.45" y="570.15" width="19.5" height="21.85" fill="#e9e9f0"/>
<rect x="317.05" y="570.15" width="19.5" height="21.85" fill="#e9e9f0"/>
<rect x="336.65" y="571.3" width="19.5" height="20.7" fill="#e9e9f0"/>
<rect x="356.25" y="573.6" width="19.5" height="18.4" fill="#e9e9f0"/>
<rect x="375.85" y="575.9" width="19.5" height="16.1" fill="#e9e9f0"/>
<rect x="395.45" y="581.65" width="19.5" height="10.35" fill="#e9e9f0"/>
<rect x="434.65" y="592" width="19.5" height="11.5" fill="#e9e9f0"/>
<rect x="454.25" y="592" width="19.5" height="31.05" fill="#31688e"/>
<rect x="473.85" y="569" width="19.5" height="23" fill="#21918c"/>
<rect x="513.05" y="592" width="19.5" height="26.45" fill="#3b528b"/>
<rect x="532.65" y="592" width="19.5" height="63.25" fill="#e9e9f0"/>
<rect x="552.25" y="592" width="19.5" height="32.2" fill="#e9e9f0"/>
<rect x="571.85" y="592" width="19.5" height="3.45" fill="#e9e9f0"/>
<rect x="591.45" y="583.95" width="19.5" height="8.05" fill="#e9e9f0"/>
<rect x="611.05" y="592" width="19.5" height="11.5" fill="#e9e9f0"/>
<rect x="630.65" y="592" width="19.5" height="14.95" fill="#e9e9f0"/>
</g>
<g>
<rect x="160.25" y="745.7" width="19.5" height="25.3" fill="#e9e9f0"/>
<rect x="179.85" y="771" width="19.5" height="20.7" fill="#e9e9f0"/>
<rect x="199.45" y="736.5" width="19.5" height="34.5" fill="#31688e"/>
<rect x="258.25" y="767.55" width="19.5" height="3.45" fill="#e9e9f0"/>
<rect x="277.85" y="766.4" width="19.5" height="4.6" fill="#e9e9f0"/>
<rect x="395.45" y="765.25" width="19.5" height="5.75" fill="#e9e9f0"/>
<rect x="454.25" y="713.5" width="19.5" height="57.5" fill="#fde725"/>
<rect x="473.85" y="744.55" width="19.5" height="26.45" fill="#20a386"/>
<rect x="513.05" y="771" width="19.5" height="14.95" fill="#e9e9f0"/>
<rect x="532.65" y="725" width="19.5" height="46" fill="#e9e9f0"/>
<rect x="591.45" y="762.95" width="19.5" height="8.05" fill="#e9e9f0"/>
<rect x="611.05" y="771" width="19.5" height="11.5" fill="#e9e9f0"/>
</g>
<g>
<rect x="160.25" y="950" width="19.5" height="9.2" fill="#e9e9f0"/>
<rect x="179.85" y="950" width="19.5" height="14.95" fill="#e9e9f0"/>
<rect x="199.45" y="944.25" width="19.5" height="5.75" fill="#e9e9f0"/>
<rect x="219.05" y="917.8" width="19.5" height="32.2" fill="#2c728e"/>
<rect x="238.65" y="950" width="19.5" height="23" fill="#e9e9f0"/>
<rect x="258.25" y="935.05" width="19.5" height="14.95" fill="#e9e9f0"/>
<rect x="297.45" y="936.2" width="19.5" height="13.8" fill="#e9e9f0"/>
<rect x="336.65" y="950" width="19.5" height="10.35" fill="#e9e9f0"/>
<rect x="356.25" y="944.25" width="19.5" height="5.75" fill="#e9e9f0"/>
<rect x="375.85" y="945.4" width="19.5" height="4.6" fill="#e9e9f0"/>
<rect x="395.45" y="950" width="19.5" height="32.2" fill="#21918c"/>
<rect x="415.05" y="950" width="19.5" height="16.1" fill="#e9e9f0"/>
<rect x="434.65" y="950" width="19.5" height="18.4" fill="#e9e9f0"/>
<rect x="454.25" y="950" width="19.5" height="6.9" fill="#e9e9f0"/>
<rect x="473.85" y="933.9" width="19.5" height="16.1" fill="#31688e"/>
<rect x="493.45" y="950" width="19.5" height="6.9" fill="#e9e9f0"/>
<rect x="513.05" y="950" width="19.5" height="14.95" fill="#e9e9f0"/>
<rect x="532.65" y="863.75" width="19.5" height="86.25" fill="#23898e"/>
<rect x="552.25" y="901.7" width="19.5" height="48.3" fill="#1fa187"/>
<rect x="571.85" y="928.15" width="19.5" height="21.85" fill="#e9e9f0"/>
<rect x="591.45" y="933.9" width="19.5" height="16.1" fill="#e9e9f0"/>
<rect x="611.05" y="940.8" width="19.5" height="9.2" fill="#e9e9f0"/>
</g>
<g stroke="#888" stroke-width="1.5" stroke-dasharray="6,4">
<line x1="158" y1="592" x2="650" y2="592"/><line x1="158" y1="771" x2="650" y2="771"/><line x1="158" y1="950" x2="650" y2="950"/>
</g>
<g stroke="#333" stroke-width="1.2">
<line x1="158" y1="490" x2="158" y2="663"/><line x1="158" y1="669" x2="158" y2="843"/><line x1="158" y1="849" x2="158" y2="1022"/>
<line x1="158" y1="1022" x2="650" y2="1022"/>
<path d="M152 500h6M152 546h6M152 592h6M152 638h6M152 680h6M152 726h6M152 771h6M152 817h6M152 858h6M152 904h6M152 950h6M152 996h6"/>
<path d="M170 1022v6M189.6 1022v6M209.2 1022v6M228.8 1022v6M248.4 1022v6M268 1022v6M287.6 1022v6M307.2 1022v6M326.8 1022v6M346.4 1022v6M366 1022v6M385.6 1022v6M405.2 1022v6M424.8 1022v6M444.4 1022v6M464 1022v6M483.6 1022v6M503.2 1022v6M522.8 1022v6M542.4 1022v6M562 1022v6M581.6 1022v6M601.2 1022v6M620.8 1022v6M640.4 1022v6"/>
</g>
<g font-size="18" text-anchor="end" fill="#333">
<text x="147" y="506">0.8</text><text x="147" y="552">0.4</text><text x="147" y="598">0.0</text><text x="147" y="644">−0.4</text>
<text x="147" y="686">0.8</text><text x="147" y="732">0.4</text><text x="147" y="777">0.0</text><text x="147" y="823">−0.4</text>
<text x="147" y="864">0.8</text><text x="147" y="910">0.4</text><text x="147" y="956">0.0</text><text x="147" y="1002">−0.4</text>
</g>
<g font-size="24" text-anchor="middle">
<text x="54" y="760" transform="rotate(-90 54 760)">Partial Correlation</text>
<text x="84" y="760" transform="rotate(-90 84 760)">(SR weights ~ Contact Frequencies)</text>
</g>
<g font-size="17" text-anchor="end" fill="#333">
<text transform="translate(176 1033) rotate(-63)">C2H2 ZF</text>
<text transform="translate(195.6 1033) rotate(-63)">bHLH</text>
<text transform="translate(215.2 1033) rotate(-63)">Homeodomain</text>
<text transform="translate(234.8 1033) rotate(-63)">bZIP</text>
<text transform="translate(254.4 1033) rotate(-63)">GATA</text>
<text transform="translate(274 1033) rotate(-63)">Nuclear receptor</text>
<text transform="translate(293.6 1033) rotate(-63)">Myb/SANT</text>
<text transform="translate(313.2 1033) rotate(-63)">ARID/BRIGHT</text>
<text transform="translate(332.8 1033) rotate(-63)">AP2</text>
<text transform="translate(352.4 1033) rotate(-63)">Ets</text>
<text transform="translate(372 1033) rotate(-63)">Forkhead</text>
<text transform="translate(391.6 1033) rotate(-63)">Pipsqueak</text>
<text transform="translate(411.2 1033) rotate(-63)">HSF</text>
<text transform="translate(430.8 1033) rotate(-63)">NAC/NAM</text>
<text transform="translate(450.4 1033) rotate(-63)">GCM</text>
<text transform="translate(470 1033) rotate(-63)">Sox</text>
<text transform="translate(489.6 1033) rotate(-63)">T−box</text>
<text transform="translate(509.2 1033) rotate(-63)">DM</text>
<text transform="translate(528.8 1033) rotate(-63)">RFX</text>
<text transform="translate(548.4 1033) rotate(-63)">AT hook</text>
<text transform="translate(568 1033) rotate(-63)">Zinc cluster</text>
<text transform="translate(587.6 1033) rotate(-63)">E2F</text>
<text transform="translate(607.2 1033) rotate(-63)">APSES</text>
<text transform="translate(626.8 1033) rotate(-63)">TCR/CxC</text>
<text transform="translate(646.4 1033) rotate(-63)">WRKY</text>
</g>
<text x="405" y="1193" font-size="25" text-anchor="middle">TF Family</text>

<text x="733" y="632" font-size="24">−log<tspan font-size="16" dy="6">10</tspan><tspan dy="-6">(</tspan><tspan font-style="italic">p</tspan>)</text>
<rect x="733" y="640" width="26" height="138" fill="url(#vir)"/>
<g stroke="#fff" stroke-width="1.2">
<path d="M733 667h5M754 667h5M733 696h5M754 696h5M733 725h5M754 725h5M733 754h5M754 754h5"/>
</g>
<g font-size="20" fill="#333">
<text x="765" y="674">4</text><text x="765" y="703">3</text><text x="765" y="732">2</text><text x="765" y="761">1</text>
</g>
<text x="733" y="843" font-size="24"><tspan font-style="italic">p</tspan> &lt; 0.05</text>
<rect x="733" y="853" width="25" height="25" fill="#e9e9f0"/>
<rect x="733" y="882" width="25" height="25" fill="#555"/>
<text x="765" y="874" font-size="21" fill="#333">FALSE</text>
<text x="765" y="903" font-size="21" fill="#333">TRUE</text>
</svg>
</body></html>
